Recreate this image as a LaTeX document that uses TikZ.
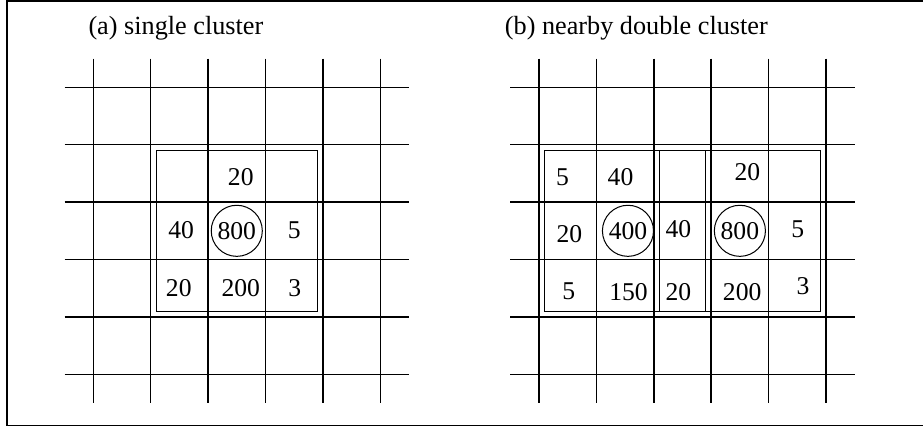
\documentclass[tikz,border=0pt]{standalone}
\usepackage{fontspec}
\setmainfont{Liberation Serif}
\usetikzlibrary{positioning}
\tikzset{
  grd/.style={line width=0.7pt},
  clu/.style={draw, line width=0.5pt},
  val/.style={font=\fontsize{12.7}{15}\selectfont, inner sep=0pt},
  peak/.style={circle, draw, line width=0.5pt, minimum size=8.9mm, inner sep=0pt, font=\fontsize{12.7}{15}\selectfont},
  ttl/.style={anchor=west, inner sep=0pt, font=\fontsize{13}{15}\selectfont}
}

\begin{document}
\begin{tikzpicture}

\useasboundingbox (-1.625,-5.918) rectangle (14.455,1.521);
\draw[line width=0.8pt] (14.6,1.503) -- (-1.503,1.503) -- (-1.503,-5.893) -- (14.6,-5.893);

% (a) single cluster
\node[ttl] (ta) at (-0.09,1.03) {(a) single cluster};
\foreach \i in {0,...,5} {
  \draw[grd] (\i,0.5) -- (\i,-5.5);
  \draw[grd] (-0.5,-\i) -- (5.5,-\i);
}
\draw[clu] (1.1,-1.1) rectangle (3.9,-3.9);
\node[val] (a1) at (2.57,-1.56) {20};
\node[val] (a2) at (1.53,-2.49) {40};
\node[peak] (a3) at (2.5,-2.5) {800};
\node[val] (a4) at (3.5,-2.49) {5};
\node[val] (a5) at (1.49,-3.5) {20};
\node[val] (a6) at (2.57,-3.5) {200};
\node[val] (a7) at (3.51,-3.5) {3};

% (b) nearby double cluster
\begin{scope}[xshift=7.765cm]
\node[ttl] (tb) at (-0.6,1.03) {(b) nearby double cluster};
\foreach \i in {0,...,5} {
  \draw[grd] (\i,0.5) -- (\i,-5.5);
  \draw[grd] (-0.5,-\i) -- (5.5,-\i);
}
\draw[clu] (0.1,-1.1) rectangle (2.9,-3.9);
\draw[clu] (2.1,-1.1) rectangle (4.9,-3.9);
\node[val] (b1) at (0.41,-1.56) {5};
\node[val] (b2) at (1.42,-1.56) {40};
\node[val] (b3) at (3.63,-1.48) {20};
\node[val] (b4) at (0.53,-2.56) {20};
\node[peak] (b5) at (1.55,-2.5) {400};
\node[val] (b6) at (2.43,-2.47) {40};
\node[peak] (b7) at (3.5,-2.5) {800};
\node[val] (b8) at (4.51,-2.47) {5};
\node[val] (b9) at (0.52,-3.56) {5};
\node[val] (b10) at (1.56,-3.56) {150};
\node[val] (b11) at (2.43,-3.56) {20};
\node[val] (b12) at (3.54,-3.56) {200};
\node[val] (b13) at (4.6,-3.46) {3};
\end{scope}

\end{tikzpicture}
\end{document}
